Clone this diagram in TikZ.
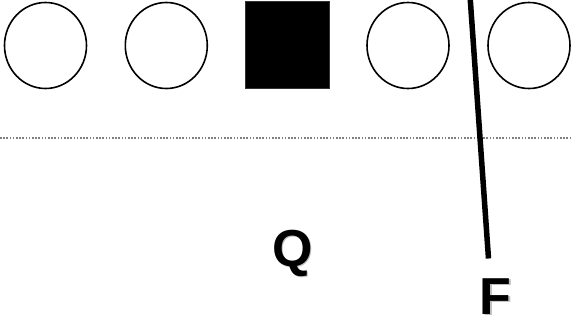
\documentclass[tikz,border=0pt]{standalone}
\usepackage{fontspec}
\setmainfont{Liberation Sans}
\usetikzlibrary{shapes.geometric}
\begin{document}
\begin{tikzpicture}[x=1pt,y=-1pt,
  player/.style={draw=black,line width=1.6pt,ellipse,minimum width=82pt,minimum height=86pt,inner sep=0pt},
  centerbox/.style={rectangle,fill=black,draw=black!80,line width=0.6pt,minimum width=84pt,minimum height=87pt,inner sep=0pt},
  lbl/.style={font=\fontsize{52}{52}\selectfont\bfseries,inner sep=0pt},
  shadowlbl/.style={lbl,text=black!25},
  losline/.style={draw=black!50,line width=1.5pt,dash pattern=on 1.6pt off 1.6pt},
  route/.style={draw=black,line width=5.5pt}]
\useasboundingbox (0,0) rectangle (573,324);
% line of scrimmage
\coordinate (losL) at (0,138);
\coordinate (losR) at (573,138);
\draw[losline] (losL) -- (losR);
% linemen
\node[player] (p1) at (45.5,45.5) {};
\node[player] (p2) at (166.3,45.5) {};
\node[centerbox] (c) at (287.5,45.2) {};
\node[player] (p4) at (408,45.5) {};
\node[player] (p5) at (529,45.5) {};
% labels with soft shadow
\node[shadowlbl] at (294.2,254.5) {Q};
\node[lbl] (q) at (292.7,253) {Q};
\node[shadowlbl] at (497,298) {F};
\node[lbl] (f) at (495.5,296.5) {F};
% route
\coordinate (rtop) at (470.3,0);
\coordinate (rbot) at (488.5,258.5);
\draw[route] (rtop) -- (rbot);
\end{tikzpicture}
\end{document}
